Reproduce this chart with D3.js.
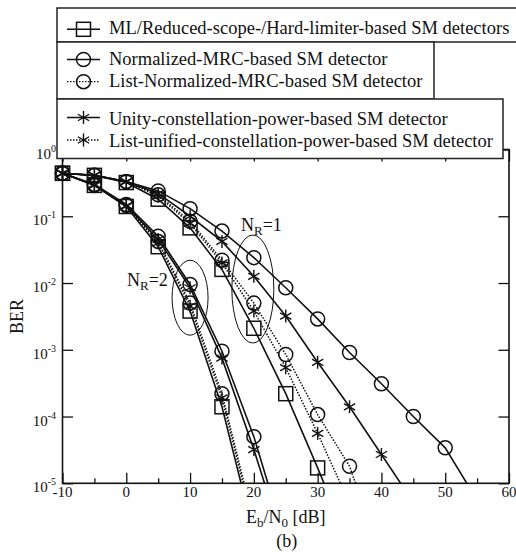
<!DOCTYPE html>
<html><head><meta charset="utf-8">
<script src="https://cdn.jsdelivr.net/npm/d3@7"></script>
<style>body{margin:0;background:#fff}svg{display:block}
svg text{font-family:"Liberation Serif","DejaVu Serif",serif}</style>
</head><body>
<svg id="c" width="516" height="555"></svg>
<script>
// ---------- data ----------
const snr = [-10, -5, 0, 5, 10, 15, 20, 25, 30, 35, 40, 45, 50, 55];
const xTicks = [-10, 0, 10, 20, 30, 40, 50, 60];
const xMinorTicks = [-5, 5, 15, 25, 35, 45, 55];
const yTicks = [0, -1, -2, -3, -4, -5]; // decade exponents

// N_R = 1
const ml1        = [0.44, 0.41, 0.32, 0.18, 0.067, 0.016, 0.0021, 2.2e-4, 1.7e-5, 1.2e-6];
const mrc1       = [0.44, 0.41, 0.33, 0.24, 0.13, 0.06, 0.024, 0.0085, 0.0029, 9.1e-4, 3.1e-4, 1.0e-4, 3.4e-5, 5.6e-6];
const listMrc1   = [0.44, 0.41, 0.33, 0.21, 0.084, 0.022, 0.005, 8.5e-4, 1.07e-4, 1.8e-5, 8e-7];
const unity1     = [0.44, 0.41, 0.33, 0.22, 0.10, 0.042, 0.0126, 0.0032, 6.5e-4, 1.4e-4, 2.7e-5, 5.2e-6];
const listUnity1 = [0.44, 0.41, 0.33, 0.20, 0.078, 0.020, 0.0038, 5.4e-4, 5.6e-5, 5e-6];
// N_R = 2
const ml2        = [0.44, 0.29, 0.14, 0.035, 0.0038, 1.4e-4, 1.7e-6];
const mrc2       = [0.44, 0.30, 0.15, 0.05, 0.0095, 9.5e-4, 5e-5, 1.3e-6];
const listMrc2   = [0.44, 0.29, 0.145, 0.042, 0.005, 2.2e-4, 2.6e-6];
const unity2     = [0.44, 0.30, 0.145, 0.045, 0.0085, 7.5e-4, 3.2e-5, 1e-6];
const listUnity2 = [0.44, 0.29, 0.14, 0.040, 0.0045, 1.9e-4, 2.2e-6];

const legendLabels = [
  "ML/Reduced-scope-/Hard-limiter-based SM detectors",
  "Normalized-MRC-based SM detector",
  "List-Normalized-MRC-based SM detector",
  "Unity-constellation-power-based SM detector",
  "List-unified-constellation-power-based SM detector"
];

// ---------- setup ----------
const svg = d3.select("#c");
const L = 62.5, R = 509, T = 149.5, B = 483.3;
const x = d3.scaleLinear().domain([-10, 60]).range([L, R]);
const y = d3.scaleLog().domain([1, 1e-5]).range([T, B]);
const INK = "#111";

svg.append("rect").attr("width", 516).attr("height", 555).attr("fill", "#fff");

svg.append("defs").append("clipPath").attr("id", "pc")
  .append("rect").attr("x", L).attr("y", T).attr("width", R - L).attr("height", B - T);

// axes (ticks inward)
const axStyle = g => { g.selectAll("path").remove(); g.selectAll("text").remove();
  g.selectAll("line").attr("stroke", INK).attr("stroke-width", 1.3); };
const yVals = yTicks.map(e => Math.pow(10, e));
svg.append("g").attr("transform", `translate(${L},0)`)
  .call(d3.axisLeft(y).tickValues(yVals).tickSize(-10.5)).call(axStyle);
svg.append("g").attr("transform", `translate(${R},0)`)
  .call(d3.axisRight(y).tickValues(yVals).tickSize(-10.5)).call(axStyle);
svg.append("g").attr("transform", `translate(0,${B})`)
  .call(d3.axisBottom(x).tickValues(xTicks).tickSize(-10.5)).call(axStyle);
svg.append("g").attr("transform", `translate(0,${B})`)
  .call(d3.axisBottom(x).tickValues(xMinorTicks).tickSize(-5)).call(axStyle);
svg.append("g").attr("transform", `translate(0,${T})`)
  .call(d3.axisTop(x).tickValues(xTicks).tickSize(-12)).call(axStyle);

// frame
svg.append("rect").attr("x", L).attr("y", T).attr("width", R - L).attr("height", B - T)
  .attr("fill", "none").attr("stroke", INK).attr("stroke-width", 1.6);

// tick labels
xTicks.forEach(v => {
  svg.append("text").attr("x", x(v)).attr("y", 497).attr("text-anchor", "middle")
    .attr("font-size", 15).attr("fill", INK).text(v);
});
yTicks.forEach(e => {
  const t = svg.append("text").attr("x", 56).attr("y", y(Math.pow(10, e)) + 9)
    .attr("text-anchor", "end").attr("font-size", 15).attr("fill", INK);
  t.append("tspan").text("10");
  t.append("tspan").attr("dy", -7).attr("font-size", 10).text(String(e));
});

// axis titles
svg.append("text").attr("transform", `translate(23,${(T + B) / 2}) rotate(-90)`)
  .attr("text-anchor", "middle").attr("font-size", 18).attr("fill", INK).text("BER");
const xl = svg.append("text").attr("x", (L + R) / 2).attr("y", 522.5).attr("text-anchor", "middle")
  .attr("font-size", 18).attr("fill", INK);
xl.append("tspan").text("E");
xl.append("tspan").attr("dy", 4).attr("font-size", 13).text("b");
xl.append("tspan").attr("dy", -4).text("/N");
xl.append("tspan").attr("dy", 4).attr("font-size", 13).text("0");
xl.append("tspan").attr("dy", -4).text(" [dB]");
svg.append("text").attr("x", (L + R) / 2 + 1).attr("y", 547).attr("text-anchor", "middle")
  .attr("font-size", 18).attr("fill", INK).text("(b)");

// ---------- markers ----------
function marker(g, type, cx, cy) {
  if (type === "square") {
    g.append("rect").attr("x", cx - 7).attr("y", cy - 7).attr("width", 14).attr("height", 14)
      .attr("fill", "none").attr("stroke", INK).attr("stroke-width", 1.5);
  } else if (type === "circle") {
    g.append("circle").attr("cx", cx).attr("cy", cy).attr("r", 7)
      .attr("fill", "none").attr("stroke", INK).attr("stroke-width", 1.5);
  } else {
    const r = 6.5;
    [90, 30, 150].forEach(a => {
      const rad = a * Math.PI / 180;
      g.append("line").attr("x1", cx - r * Math.cos(rad)).attr("y1", cy - r * Math.sin(rad))
        .attr("x2", cx + r * Math.cos(rad)).attr("y2", cy + r * Math.sin(rad))
        .attr("stroke", INK).attr("stroke-width", 1.4);
    });
  }
}

const series = [
  { v: ml1, m: "square", dash: false }, { v: ml2, m: "square", dash: false },
  { v: listMrc1, m: "circle", dash: true }, { v: listMrc2, m: "circle", dash: true },
  { v: listUnity1, m: "star", dash: true }, { v: listUnity2, m: "star", dash: true },
  { v: unity1, m: "star", dash: false }, { v: unity2, m: "star", dash: false },
  { v: mrc1, m: "circle", dash: false }, { v: mrc2, m: "circle", dash: false }
];

const line = d3.line().x(d => x(d[0])).y(d => y(d[1]));
const lineG = svg.append("g").attr("clip-path", "url(#pc)");
series.forEach(s => {
  const pts = s.v.map((v, i) => [snr[i], v]);
  lineG.append("path").attr("d", line(pts)).attr("fill", "none").attr("stroke", INK)
    .attr("stroke-width", s.dash ? 1.5 : 1.6)
    .attr("stroke-dasharray", s.dash ? "1.5,1.5" : null);
});
const mkG = svg.append("g");
series.forEach(s => {
  s.v.forEach((v, i) => { if (v >= 1e-5) marker(mkG, s.m, x(snr[i]), y(v)); });
});

// ---------- annotations ----------
svg.append("ellipse").attr("cx", x(10)).attr("cy", y(Math.pow(10, -2.22))).attr("rx", 18).attr("ry", 37.5)
  .attr("fill", "none").attr("stroke", INK).attr("stroke-width", 1);
svg.append("ellipse").attr("cx", x(20) - 1).attr("cy", y(Math.pow(10, -2.09))).attr("rx", 21).attr("ry", 54)
  .attr("fill", "none").attr("stroke", INK).attr("stroke-width", 1);
function nrLabel(px, py, n) {
  const t = svg.append("text").attr("x", px).attr("y", py).attr("font-size", 18).attr("fill", INK);
  t.append("tspan").text("N");
  t.append("tspan").attr("dy", 4).attr("font-size", 13).text("R");
  t.append("tspan").attr("dy", -4).text("=" + n);
}
nrLabel(127, 285.5, 2);
nrLabel(241, 231, 1);

// ---------- legend ----------
const boxes = [
  { y0: 8, y1: 42, x1: 519, rows: [{ lab: 0, m: "square", dash: false, cy: 29.3, by: 33.5 }] },
  { y0: 42, y1: 99, x1: 434, rows: [{ lab: 1, m: "circle", dash: false, cy: 59.5, by: 65 },
                                    { lab: 2, m: "circle", dash: true, cy: 81.7, by: 87.3 }] },
  { y0: 99, y1: 158.5, x1: 503, rows: [{ lab: 3, m: "star", dash: false, cy: 117.5, by: 125 },
                                       { lab: 4, m: "star", dash: true, cy: 140, by: 146.7 }] }
];
const lg = svg.append("g");
boxes.forEach(b => {
  lg.append("rect").attr("x", 57).attr("y", b.y0).attr("width", b.x1 - 57).attr("height", b.y1 - b.y0)
    .attr("fill", "#fff").attr("stroke", "#222").attr("stroke-width", 1.5);
});
boxes.forEach(b => {
  b.rows.forEach(r => {
    lg.append("line").attr("x1", 67).attr("x2", 100).attr("y1", r.cy).attr("y2", r.cy)
      .attr("stroke", INK).attr("stroke-width", r.dash ? 1.3 : 1.6)
      .attr("stroke-dasharray", r.dash ? "1.5,1.5" : null);
    marker(lg, r.m, 83.5, r.cy);
    lg.append("text").attr("x", 109).attr("y", r.by)
      .attr("font-size", 18.5).attr("fill", INK).text(legendLabels[r.lab]);
  });
});
</script>
</body></html>
